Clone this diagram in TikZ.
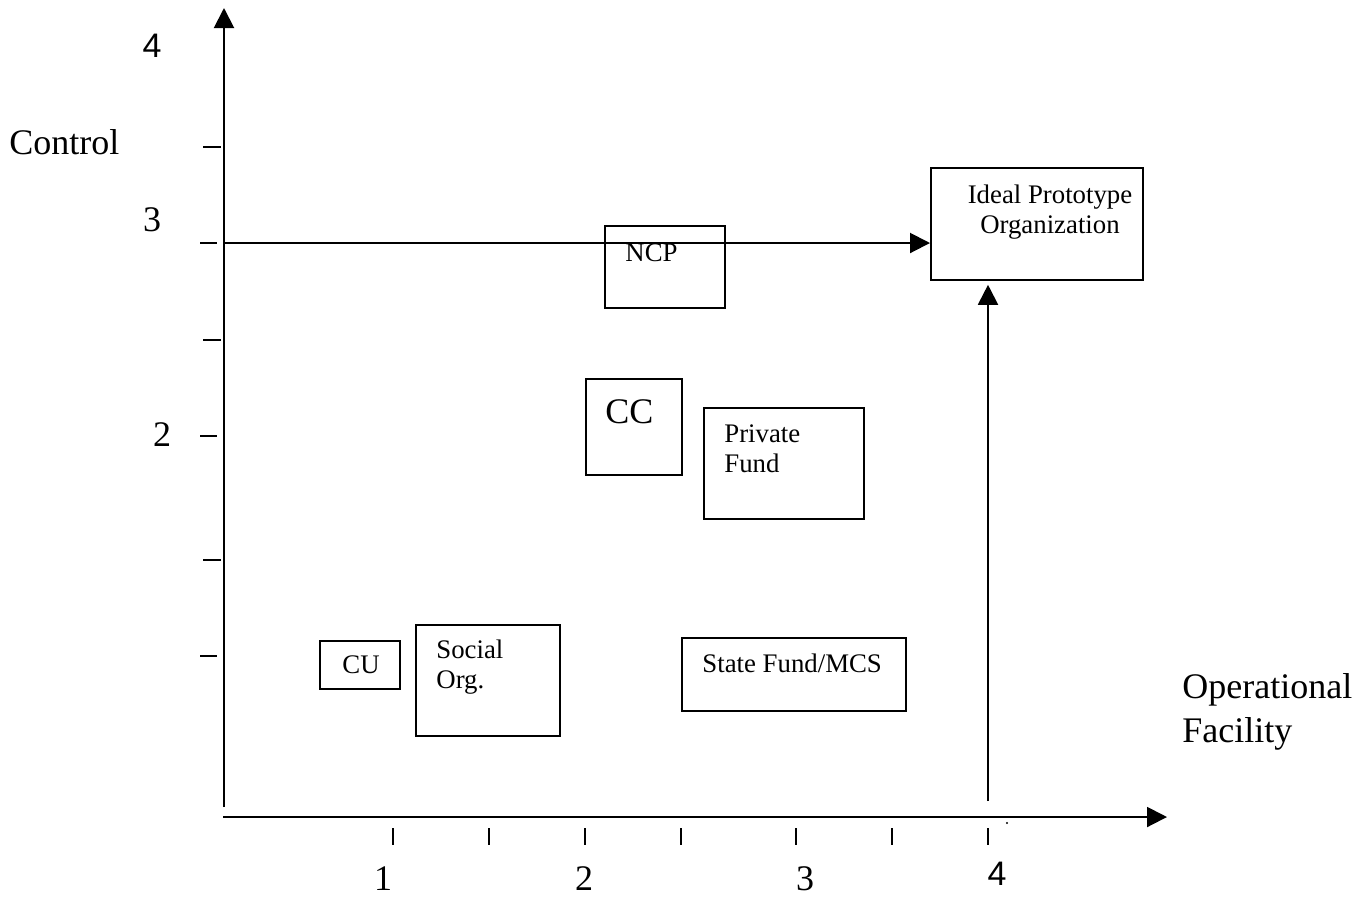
\documentclass[tikz,border=0pt]{standalone}
\usepackage{fontspec}
\setmainfont{Liberation Serif}
\newfontfamily\sansdigit{Liberation Sans}
\usetikzlibrary{arrows.meta,positioning,calc}

\tikzset{
  axisline/.style={line width=1pt, -{Triangle[length=10pt,width=10pt]}},
  orgbox/.style={draw, line width=0.9pt, inner sep=0pt, anchor=north west},
  boxtext/.style={inner sep=0pt, font=\fontsize{13.4}{15}\selectfont},
  bigtext/.style={inner sep=0pt, font=\fontsize{18}{22}\selectfont},
  sixfour/.style={inner sep=0pt, font=\sansdigit\fontsize{17}{20}\selectfont},
  tickmark/.style={line width=0.8pt},
}

\begin{document}
\begin{tikzpicture}[x=0.5pt, y=-0.5pt]
\useasboundingbox (0,0) rectangle (1364,896);

% Axes
\coordinate (yfoot) at (224,807);
\coordinate (ytip) at (224,8);
\coordinate (xfoot) at (223,817);
\coordinate (xtip) at (1167,817);
\draw[axisline] (yfoot) -- (ytip);
\draw[axisline] (xfoot) -- (xtip);

\foreach \ty/\ta/\tb in {147/203/221, 243/200/217, 340/203/221, 436/200/217, 560/203/221, 656/200/217} {
    \draw[tickmark] (\ta,\ty) -- (\tb,\ty);
}
\foreach \tx in {393,489,585,681,796,892,988} {
    \draw[tickmark] (\tx,828) -- (\tx,845);
}
\fill (1007,823) circle (0.6pt);

% Axis labels
\node[sixfour] at (152,45.5) (y4) {4};
\node[bigtext] at (152,220) (y3) {3};
\node[bigtext] at (162,435) (y2) {2};
\node[bigtext] at (383,879) (x1) {1};
\node[bigtext] at (584,879) (x2) {2};
\node[bigtext] at (805,879) (x3) {3};
\node[sixfour] at (997,874) (x4) {4};
\node[bigtext, anchor=base west] at (9,154) (ctrl) {Control};
\node[bigtext, anchor=base west, align=left] at (1182,742) (opfac) {Operational\\Facility};

% Organizations
\node[orgbox, minimum width=106pt, minimum height=56pt] at (930,167) (ideal) {};
\node[boxtext, anchor=base, align=center] at ([shift={(120,66)}]ideal.north west) (ideal-t) {Ideal Prototype\\Organization};

\node[orgbox, minimum width=60pt, minimum height=41pt] at (604,225) (ncp) {};
\node[boxtext, anchor=base west] at ([shift={(21,36)}]ncp.north west) (ncp-t) {NCP};

\node[orgbox, minimum width=48pt, minimum height=48pt] at (585,378) (cc) {};
\node[bigtext, anchor=base west] at ([shift={(20,45)}]cc.north west) (cc-t) {CC};

\node[orgbox, minimum width=80pt, minimum height=55.5pt] at (703,407) (priv) {};
\node[boxtext, anchor=base west, align=left] at ([shift={(21,65)}]priv.north west) (priv-t) {Private\\Fund};

\node[orgbox, minimum width=112pt, minimum height=36.5pt] at (681,637) (state) {};
\node[boxtext, anchor=base west] at ([shift={(21,35)}]state.north west) (state-t) {State Fund/MCS};

\node[orgbox, minimum width=40pt, minimum height=24pt] at (319,640) (cu) {};
\node[boxtext, anchor=base west] at ([shift={(23,33)}]cu.north west) (cu-t) {CU};

\node[orgbox, minimum width=72pt, minimum height=55.5pt] at (415,624) (social) {};
\node[boxtext, anchor=base west, align=left] at ([shift={(21,64)}]social.north west) (social-t) {Social\\Org.};

% Paths to the ideal
\coordinate (ctrl3) at (224,243);
\coordinate (fac4) at (988,801);
\draw[axisline] (ctrl3) -- (ctrl3 -| ideal.west);
\draw[axisline, shorten >=2pt] (fac4) -- (fac4 |- ideal.south);

\end{tikzpicture}
\end{document}
